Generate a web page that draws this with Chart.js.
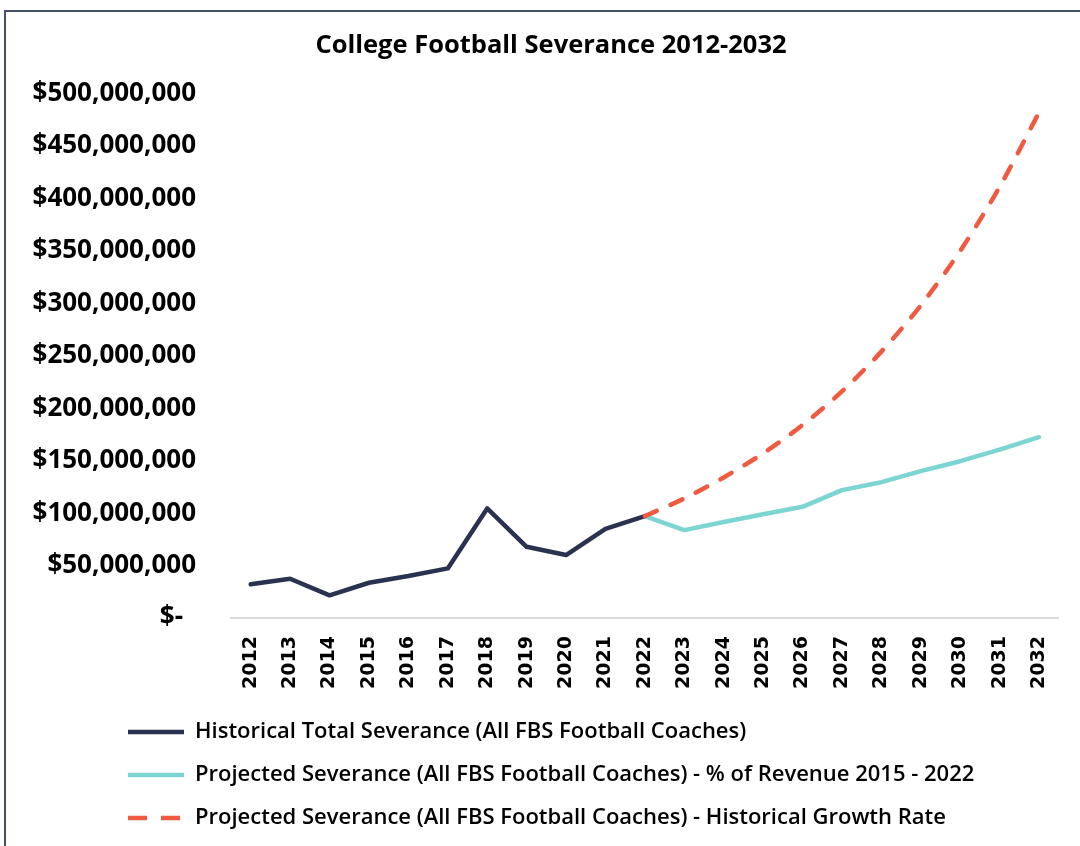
<!DOCTYPE html>
<html>
<head>
<meta charset="utf-8">
<title>College Football Severance 2012-2032</title>
<script src="https://cdn.jsdelivr.net/npm/chart.js@4/dist/chart.umd.min.js"></script>
<style>
  html, body { margin: 0; padding: 0; background: #fff; }
  #wrap { position: relative; width: 1080px; height: 846px; overflow: hidden; }
  #frame {
    position: absolute; left: 4px; top: 10px; right: -10px; bottom: -10px;
    border-left: 2px solid #44506a; border-top: 2px solid #44506a;
    pointer-events: none;
  }
</style>
</head>
<body>
<div id="wrap">
  <canvas id="severanceChart"></canvas>
  <div id="frame"></div>
</div>
<script>
// Years on the x axis
var years = ['2012', '2013', '2014', '2015', '2016', '2017', '2018', '2019', '2020', '2021', '2022',
             '2023', '2024', '2025', '2026', '2027', '2028', '2029', '2030', '2031', '2032'];

// Historical total severance, 2012-2022
var historical = [32100000, 37400000, 21600000, 33600000, 40000000, 47300000, 104500000,
                  67900000, 60000000, 85000000, 97100000,
                  null, null, null, null, null, null, null, null, null, null];

// Projection based on % of revenue 2015 - 2022
var projRevenue = [null, null, null, null, null, null, null, null, null, null, 97100000,
                   83800000, 91500000, 99000000, 106000000, 121900000, 129500000,
                   140000000, 149500000, 160600000, 172400000];

// Projection based on historical growth rate
var projGrowth = [null, null, null, null, null, null, null, null, null, null, 97100000,
                  114000000, 134000000, 157000000, 184000000, 216000000, 254000000,
                  298000000, 350000000, 411000000, 482000000];

var ctx = document.getElementById('severanceChart');

// push the legend rows in so they sit under the plot instead of the left edge
var legendIndent = {
    id: 'legendIndent',
    afterLayout: function(chart) {
        if (chart.legend) chart.legend.left += 77;
    }
};

var chartData = {
    labels: years,
    datasets: [
        {
            label: 'Historical Total Severance (All FBS Football Coaches)',
            data: historical,
            borderColor: '#2b3250',
            backgroundColor: '#2b3250',
            borderWidth: 4.5,
            pointRadius: 0,
            tension: 0,
            borderJoinStyle: 'round',
            borderCapStyle: 'round',
            order: 1
        },
        {
            label: 'Projected Severance (All FBS Football Coaches) - % of Revenue 2015 - 2022',
            data: projRevenue,
            borderColor: '#7dd5d3',
            backgroundColor: '#7dd5d3',
            borderWidth: 4.5,
            pointRadius: 0,
            tension: 0,
            borderJoinStyle: 'round',
            borderCapStyle: 'round',
            order: 2
        },
        {
            label: 'Projected Severance (All FBS Football Coaches) - Historical Growth Rate',
            data: projGrowth,
            borderColor: '#f05a41',
            backgroundColor: '#f05a41',
            borderWidth: 4.5,
            borderDash: [13, 15],
            borderCapStyle: 'round',
            pointRadius: 0,
            tension: 0.3,
            order: 0
        }
    ]
};

var chartOptions = {
    responsive: true,
    maintainAspectRatio: false,
    animation: false,
    layout: {
        padding: { left: 30, right: 8, top: 0, bottom: 7 }
    },
    plugins: {
        title: {
            display: true,
            text: 'College Football Severance 2012-2032',
            color: '#000',
            font: { family: 'Open Sans', size: 25.5, weight: 'bold' },
            padding: { top: 30, bottom: 33 }
        },
        legend: {
            display: true,
            position: 'bottom',
            align: 'start',
            labels: {
                usePointStyle: true,
                pointStyle: 'line',
                pointStyleWidth: 56,
                boxHeight: 22,
                padding: 21,
                color: '#000',
                font: { family: 'Open Sans', size: 22, weight: '600' },
                sort: function(a, b) { return a.datasetIndex - b.datasetIndex; },
                // point style 'line' loses the dataset dash, so copy it back
                generateLabels: function(chart) {
                    var items = Chart.defaults.plugins.legend.labels.generateLabels(chart);
                    items.forEach(function(item) {
                        var ds = chart.data.datasets[item.datasetIndex];
                        item.lineWidth = 4.5;
                        item.lineCap = 'butt';
                        item.lineDash = ds.borderDash ? [19, 14] : [];
                    });
                    return items;
                }
            }
        },
        tooltip: { enabled: false }
    },
    scales: {
        x: {
            offset: true,
            grid: { display: false, drawTicks: false },
            border: { display: true, color: '#d9d9d9', width: 2 },
            ticks: {
                autoSkip: false,
                minRotation: 90,
                maxRotation: 90,
                padding: 18,
                color: '#000',
                font: { family: 'DejaVu Sans', size: 19, weight: 'bold' }
            },
            afterFit: function(scale) { scale.height = 82; }
        },
        y: {
            min: 0,
            max: 500000000,
            grid: { display: false, drawTicks: false },
            border: { display: false },
            ticks: {
                stepSize: 50000000,
                padding: 35,
                color: '#000',
                font: { family: 'Open Sans', size: 26, weight: 'bold' },
                callback: function(value) {
                    if (value === 0) return '$-\u2002';
                    return '$' + value.toLocaleString('en-US');
                }
            },
            afterFit: function(scale) { scale.width = 201; }
        }
    }
};

var severanceChart = new Chart(ctx, {
    type: 'line',
    data: chartData,
    options: chartOptions,
    plugins: [legendIndent]
});
</script>
</body>
</html>
